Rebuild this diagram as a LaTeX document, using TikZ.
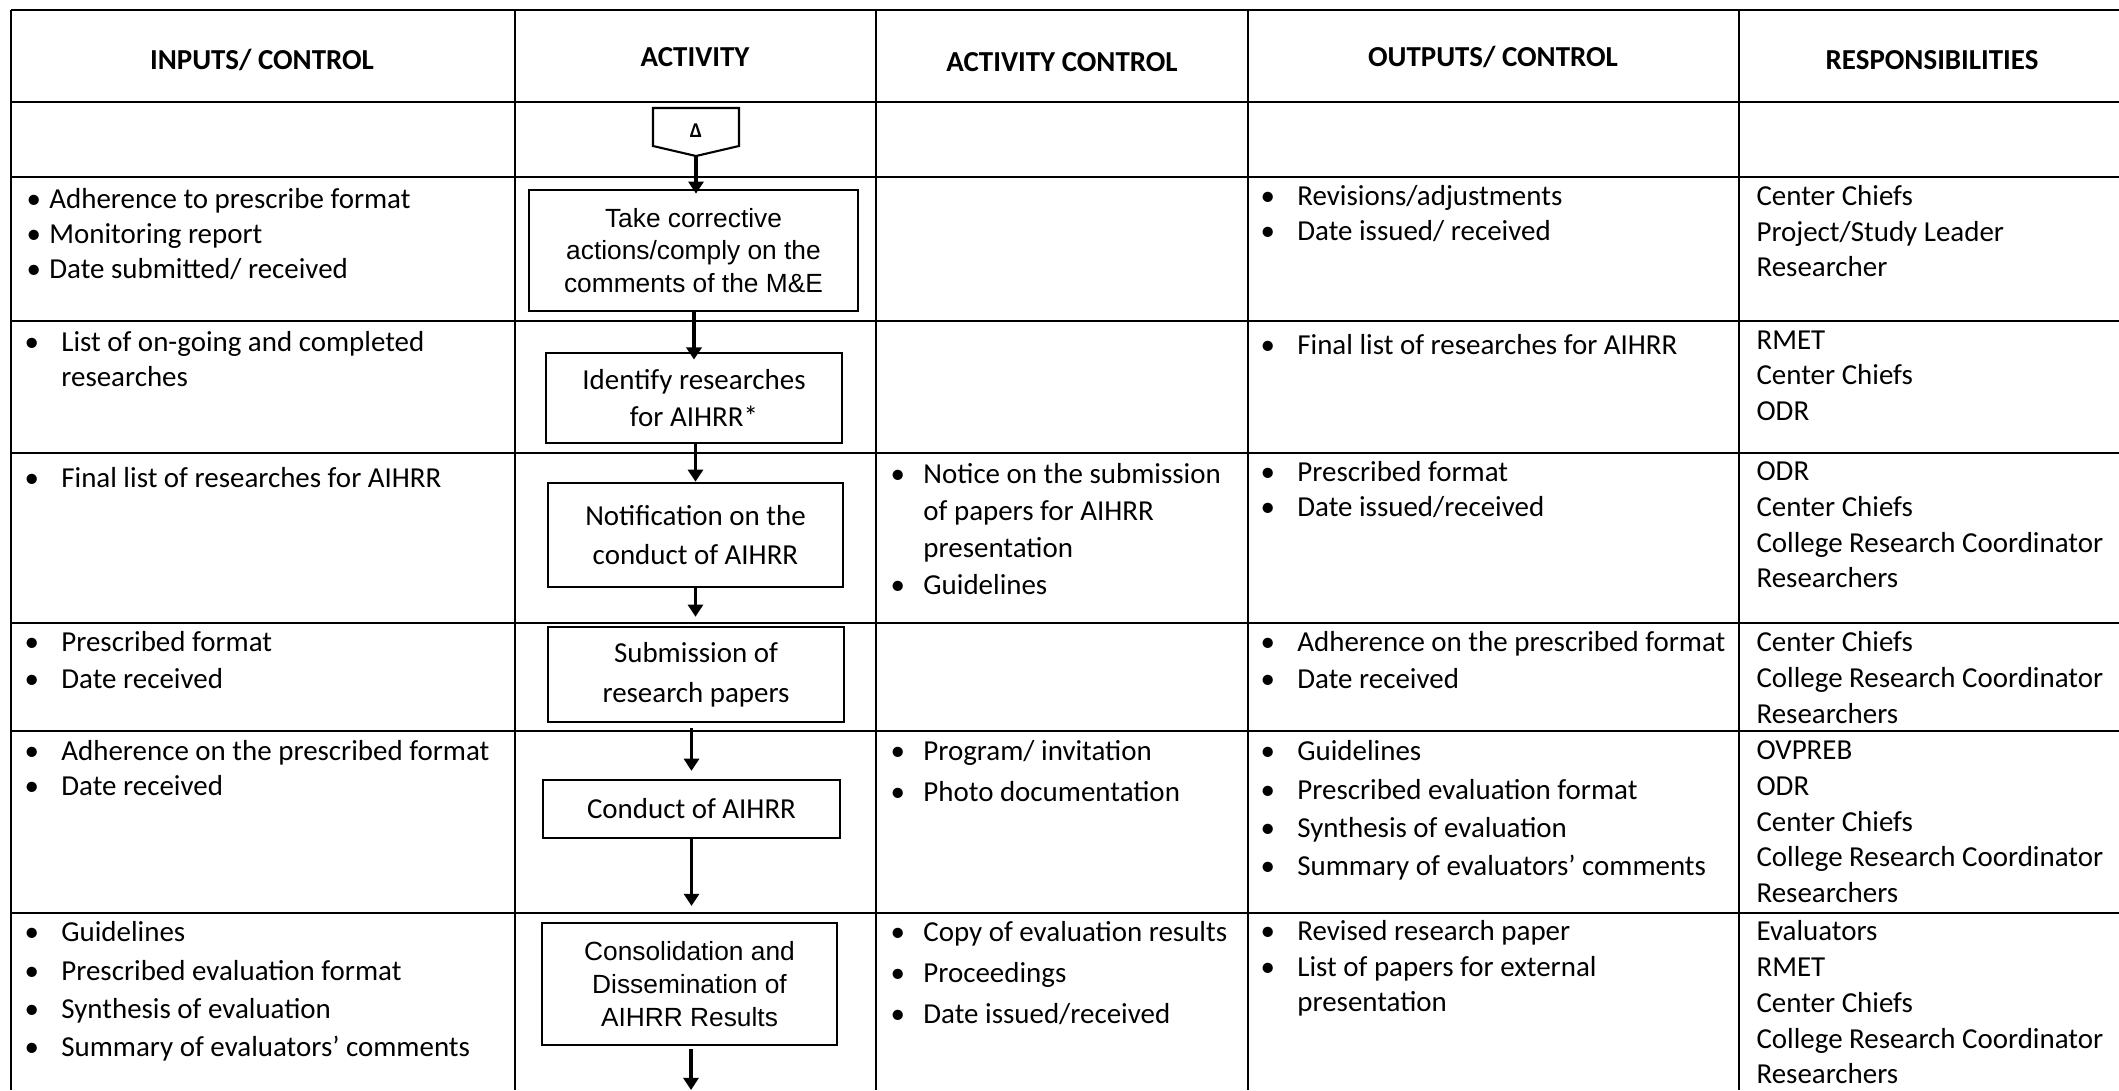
\documentclass[tikz,border=0pt]{standalone}
\usepackage{fontspec}
\setmainfont{Carlito}
\newfontfamily\arialfont{Liberation Sans}
\usetikzlibrary{arrows.meta}
\newcommand{\itm}[1][14pt]{\makebox[#1][l]{\textbullet}}
\newcommand{\lh}[1]{\fontsize{11}{#1}\selectfont}

\begin{document}
\begin{tikzpicture}[x=0.38pt,y=-0.38pt,line join=miter,>={Triangle[length=4.6pt,width=5.7pt]}]
	\tikzset{grid/.style={line width=1pt},
		head/.style={anchor=base,font=\bfseries\lh{13}},
		cell/.style={anchor=north west,yshift=7.5pt,align=left,inner sep=0pt,font=\lh{#1},execute at begin node={\rule{0pt}{9pt}}},
		cell/.default=13.6pt,
		act/.style 2 args={draw,line width=1pt,inner sep=0pt,align=center,minimum width=#1*0.38pt,minimum height=#2*0.38pt},
		flow/.style={->,line width=1.5pt}}
	\path[fill=white,use as bounding box] (0,0) rectangle (2119,1090);
	\foreach \y in {10,102,177,321,453,623,731,913}
	\draw[grid] (11,\y)--(2119,\y);
	\foreach \x in {11,515,876,1248,1739}
	\draw[grid] (\x,10)--(\x,1090);
	\node[head] (hIn) at (262,69) {INPUTS/ CONTROL};
	\node[head] (hAct) at (695,66) {ACTIVITY};
	\node[head] (hCtl) at (1062,71) {ACTIVITY CONTROL};
	\node[head] (hOut) at (1493,66) {OUTPUTS/ CONTROL};
	\node[head] (hResp) at (1932,69) {RESPONSIBILITIES};
	\draw[line width=0.8pt] (653,108)--(739,108)--(739,146)--(696,156)--(653,146)--cycle;
	\node[font=\bfseries\fontsize{8}{9}\selectfont] (conA) at (696,131) {Δ};
	\coordinate (conTip) at (696,156);
	\node[act={329}{121},font=\arialfont\fontsize{10}{12.5}\selectfont] (take) at (693.5,250.5) {Take corrective\\actions/comply on the\\comments of the M\&E};
	\node[act={296}{90},font=\lh{14}] (ident) at (694,398) {Identify researches\\for AIHRR*};
	\node[act={295}{104},font=\lh{14.8}] (notif) at (695.5,535) {Notification on the\\conduct of AIHRR};
	\node[act={296}{95},font=\lh{15.2}] (subm) at (696,674.5) {Submission of\\research papers};
	\node[act={297}{58},font=\lh{13.6}] (conduct) at (691.5,809) {Conduct of AIHRR};
	\node[act={295}{122},font=\arialfont\fontsize{10}{12.4}\selectfont] (consol) at (689.5,984) {Consolidation and\\Dissemination of\\AIHRR Results};
	\coordinate (endA) at (691,1090);
	\draw[flow,shorten >=-1.9pt] (conTip)--(conTip |- take.north);
	\draw[flow,shorten >=-3pt] (take.south -| ident.north)--(ident.north);
	\draw[flow] (ident.south -| notif.north)--(notif.north);
	\draw[flow,shorten >=3.4pt] (notif.south)--(notif.south |- subm.north);
	\draw[flow,shorten <=1.9pt,shorten >=3pt] (subm.south -| conduct.north)--(conduct.north);
	\draw[flow,shorten >=6pt] (conduct.south)--(conduct.south |- consol.north);
	\draw[flow,shorten <=1pt] (consol.south -| endA)--(endA);
	\node[cell=13.3pt] (in1) at (26,208) {\itm[8.7pt]Adherence to prescribe format\\\itm[8.7pt]Monitoring report\\\itm[8.7pt]Date submitted/ received};
	\node[cell=13.3pt] (in2) at (24,351) {\itm List of on-going and completed\\\hspace*{14pt}researches};
	\node[cell] (in3) at (24,483) {\itm Final list of researches for AIHRR};
	\node[cell=14.06pt] (in4) at (24,651) {\itm Prescribed format\\\itm Date received};
	\node[cell=13.3pt] (in5) at (24,760) {\itm Adherence on the prescribed format\\\itm Date received};
	\node[cell=14.55pt] (in6) at (24,941) {\itm Guidelines\\\itm Prescribed evaluation format\\\itm Synthesis of evaluation\\\itm Summary of evaluators’ comments};
	\node[cell=13.95pt] (ctl3) at (890,483) {\itm[12.5pt]Notice on the submission\\\hspace*{12.5pt}of papers for AIHRR\\\hspace*{12.5pt}presentation\\\itm[12.5pt]Guidelines};
	\node[cell=15.58pt] (ctl5) at (890,760) {\itm[12.5pt]Program/ invitation\\\itm[12.5pt]Photo documentation};
	\node[cell=15.58pt] (ctl6) at (890,941) {\itm[12.5pt]Copy of evaluation results\\\itm[12.5pt]Proceedings\\\itm[12.5pt]Date issued/received};
	\node[cell=13.3pt] (out1) at (1260,205) {\itm Revisions/adjustments\\\itm Date issued/ received};
	\node[cell] (out2) at (1260,350) {\itm Final list of researches for AIHRR};
	\node[cell=13.3pt] (out3) at (1260,481) {\itm Prescribed format\\\itm Date issued/received};
	\node[cell=14.06pt] (out4) at (1260,651) {\itm Adherence on the prescribed format\\\itm Date received};
	\node[cell=14.55pt] (out5) at (1260,760) {\itm Guidelines\\\itm Prescribed evaluation format\\\itm Synthesis of evaluation\\\itm Summary of evaluators’ comments};
	\node[cell=13.49pt] (out6) at (1260,940) {\itm Revised research paper\\\itm List of papers for external\\\hspace*{14pt}presentation};
	\node[cell=13.49pt] (resp1) at (1756,205) {Center Chiefs\\Project/Study Leader\\Researcher};
	\node[cell=13.49pt] (resp2) at (1756,350) {RMET\\Center Chiefs\\ODR};
	\node[cell=13.57pt] (resp3) at (1756,481) {ODR\\Center Chiefs\\College Research Coordinator\\Researchers};
	\node[cell=13.68pt] (resp4) at (1756,651) {Center Chiefs\\College Research Coordinator\\Researchers};
	\node[cell=13.59pt] (resp5) at (1756,760) {OVPREB\\ODR\\Center Chiefs\\College Research Coordinator\\Researchers};
	\node[cell=13.59pt] (resp6) at (1756,940) {Evaluators\\RMET\\Center Chiefs\\College Research Coordinator\\Researchers};
\end{tikzpicture}
\end{document}
